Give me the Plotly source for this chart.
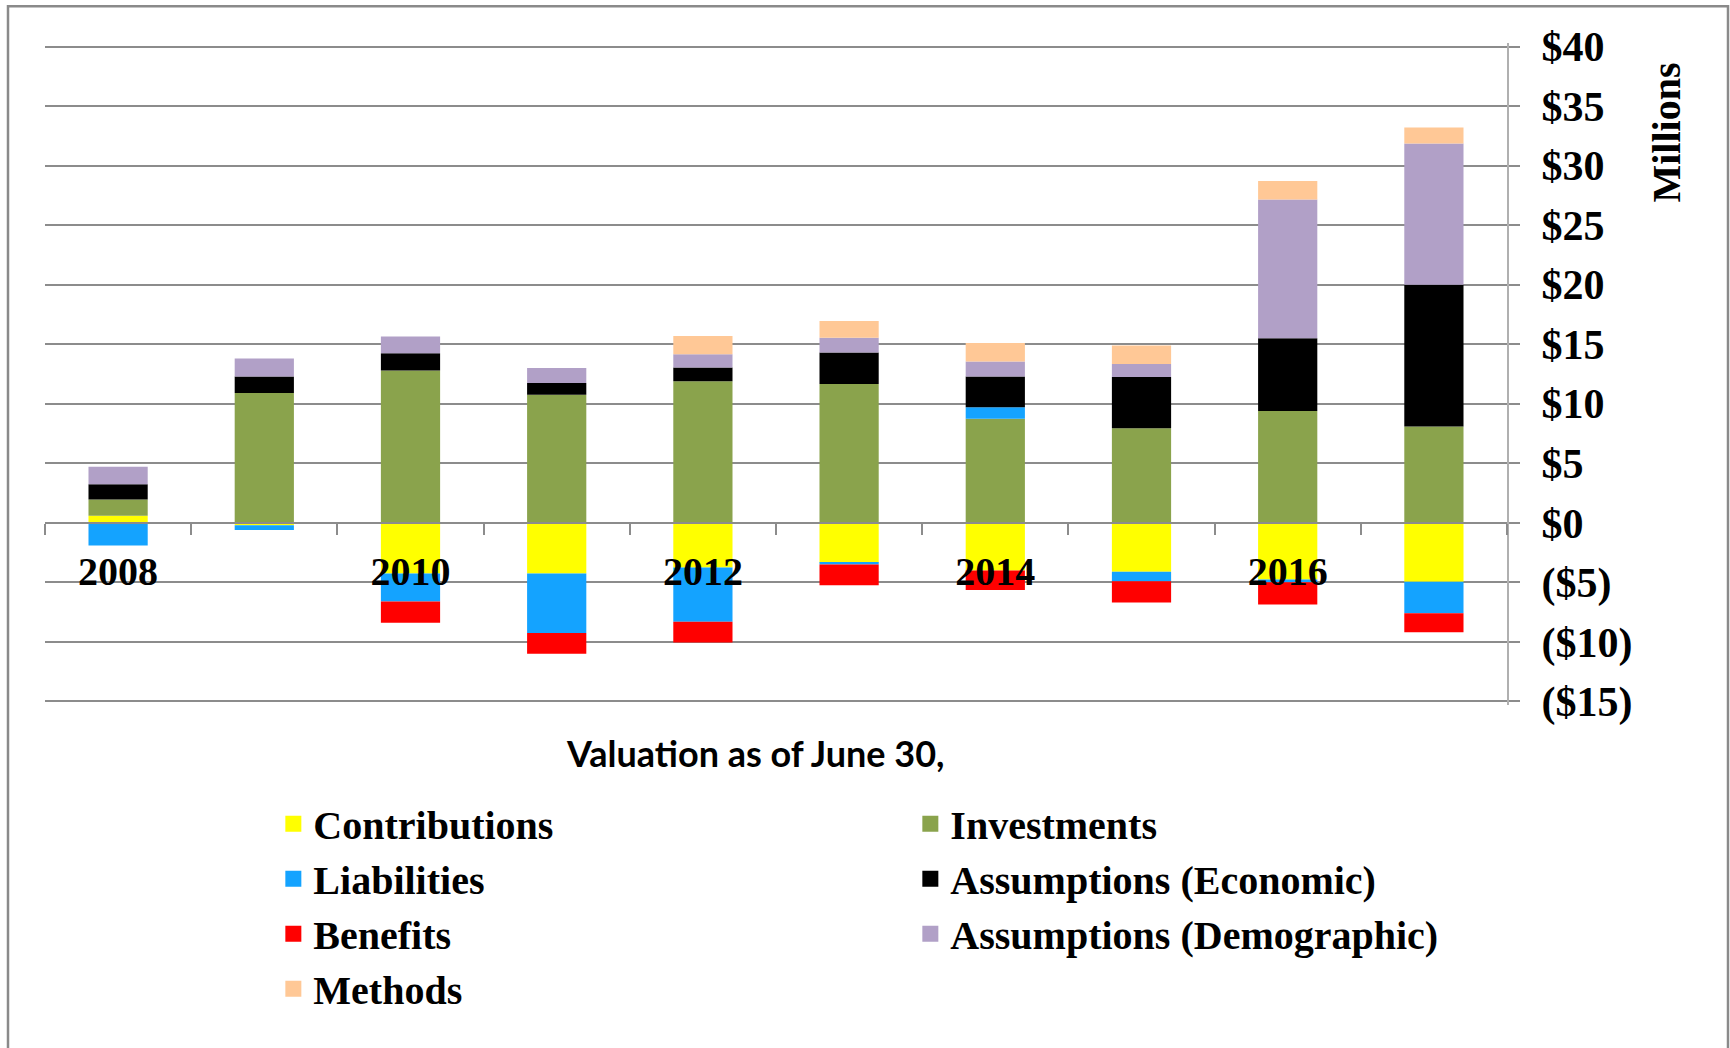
import plotly.graph_objects as go

# valuation years (June 30)
years = [2008, 2009, 2010, 2011, 2012, 2013, 2014, 2015, 2016, 2017]

# gain / loss by source, $ millions
contributions = [0.6, -0.2, -4.25, -4.25, -3.75, -3.35, -4.0, -4.1, -4.75, -4.95]
investments = [1.35, 10.9, 12.8, 10.75, 11.9, 11.65, 8.75, 7.95, 9.4, 8.1]
liabilities = [-1.9, -0.4, -2.35, -5.0, -4.55, -0.15, 0.95, -0.8, -0.25, -2.65]
assump_econ = [1.3, 1.4, 1.45, 1.0, 1.15, 2.65, 2.6, 4.3, 6.1, 11.9]
benefits = [0.0, 0.0, -1.8, -1.75, -1.75, -1.75, -1.65, -1.8, -1.85, -1.6]
assump_demo = [1.45, 1.5, 1.4, 1.25, 1.1, 1.25, 1.25, 1.1, 11.65, 11.85]
methods = [0.0, 0.0, 0.0, 0.0, 1.55, 1.4, 1.55, 1.55, 1.55, 1.35]

year_ticks = [2008, 2010, 2012, 2014, 2016]
y_ticks = [-15, -10, -5, 0, 5, 10, 15, 20, 25, 30, 35, 40]
y_labels = ["($15)", "($10)", "($5)", "$0", "$5", "$10", "$15", "$20",
            "$25", "$30", "$35", "$40"]

serif = "Times New Roman, Liberation Serif, serif"
grey = "#8c8c8c"

series = [
    ("Contributions", contributions, "#FFFF00"),
    ("Investments", investments, "#8AA34C"),
    ("Liabilities", liabilities, "#14A3FF"),
    ("Assumptions (Economic)", assump_econ, "#000000"),
    ("Benefits", benefits, "#FF0000"),
    ("Assumptions (Demographic)", assump_demo, "#B1A0C7"),
    ("Methods", methods, "#FFC896"),
]

fig = go.Figure()
for name, vals, col in series:
    fig.add_trace(go.Bar(x=years, y=vals, name=name, legendgroup=name,
                         showlegend=False,
                         marker=dict(color=col, line=dict(width=0))))
# legend entries with bigger square swatches
for name, vals, col in series:
    fig.add_trace(go.Scatter(x=[None], y=[None], name=name, legendgroup=name,
                             mode="markers",
                             marker=dict(symbol="square", size=16, color=col)))

# range padded a little so the $40 / ($15) gridlines are drawn
y_lo, y_hi = -15.3, 40.3
px_per_unit = 654.6 / 55
top = 46.4 - 0.3 * px_per_unit
bottom = 701 + 0.3 * px_per_unit
plot_h = bottom - top

fig.update_layout(
    width=1730, height=1048,
    barmode="relative", bargap=0.595,
    plot_bgcolor="white", paper_bgcolor="white",
    margin=dict(l=45, r=223, t=top, b=1048 - bottom),
    font=dict(family=serif, size=40, color="black"),
    showlegend=True,
    legend=dict(orientation="h", xref="container", yref="container",
                x=0.158, y=0.245, xanchor="left", yanchor="top",
                entrywidthmode="pixels", entrywidth=592,
                itemsizing="trace",
                font=dict(family=serif, size=40, color="black", weight="bold"),
                traceorder="normal", itemclick=False),
)

# category axis sits on the $0 line, labels every other year
fig.update_xaxes(
    range=[2007.5, 2017.5], anchor="free", position=-y_lo / (y_hi - y_lo),
    tickmode="array", tickvals=year_ticks, ticks="",
    ticklabelstandoff=13,
    tickfont=dict(family=serif, size=40, color="black", weight="bold"),
    showline=True, linecolor=grey, linewidth=2,
    showgrid=False, zeroline=False,
    minor=dict(ticks="outside", tick0=2007.5, dtick=1, ticklen=11,
               tickcolor=grey, tickwidth=2, showgrid=False),
)

fig.update_yaxes(
    side="right", range=[y_lo, y_hi],
    tickmode="array", tickvals=y_ticks, ticktext=y_labels,
    ticks="outside", ticklen=11, tickcolor=grey, tickwidth=2,
    ticklabelstandoff=13,
    tickfont=dict(family=serif, size=42, color="black", weight="bold"),
    showgrid=True, gridcolor=grey, gridwidth=2,
    showline=True, linecolor="#b0b0b0", linewidth=2,
    zeroline=False,
)

fig.add_annotation(text="Millions", textangle=-90, xref="paper", yref="paper",
                   x=1.109, y=(bottom - 132) / plot_h,
                   xanchor="center", yanchor="middle", showarrow=False,
                   font=dict(family=serif, size=40, color="black", weight="bold"))

fig.add_annotation(text="Valuation as of June 30,", xref="paper", yref="paper",
                   x=(755 - 45) / 1462, y=-(753 - bottom) / plot_h,
                   xanchor="center", yanchor="middle", showarrow=False,
                   font=dict(family="Lato, Liberation Sans, sans-serif", size=36,
                             color="black", weight="bold"))

# outer chart frame
fig.add_shape(type="rect", xref="paper", yref="paper",
              x0=(8 - 45) / 1462, x1=(1728 - 45) / 1462,
              y0=-(1060 - bottom) / plot_h, y1=(bottom - 6) / plot_h,
              line=dict(color="#8a8a8a", width=2.5), layer="below")

# page body margin would push the chart 8px down/right
fig.write_html("out.html", config={"displayModeBar": False},
               post_script="document.body.style.margin='0';")
